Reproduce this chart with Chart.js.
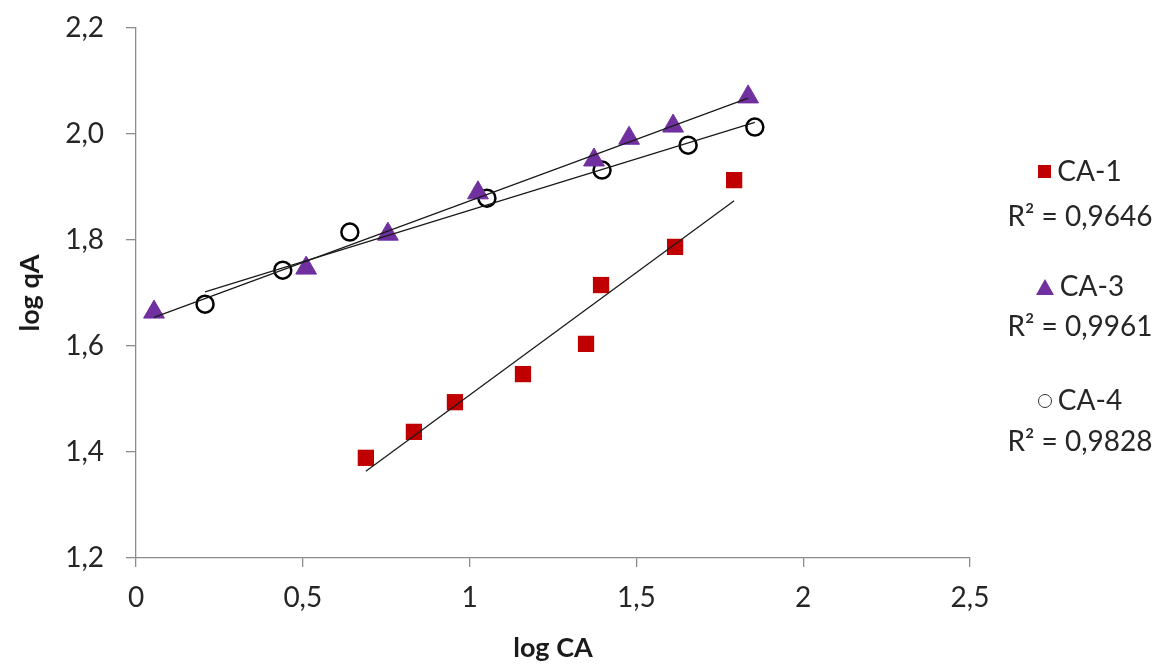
<!DOCTYPE html>
<html>
<head>
<meta charset="utf-8">
<script src="https://cdn.jsdelivr.net/npm/chart.js@4/dist/chart.umd.min.js"></script>
<style>
  body { margin: 0; background: #fff; }
  #wrap { position: relative; width: 1160px; height: 664px; }
  #legend { position: absolute; left: 990px; top: 0; width: 180px; font-family: Lato, "Open Sans", sans-serif; font-size: 28px; color: #262626; text-align: center; }
  .row { position: absolute; left: 0; width: 180px; line-height: 32px; white-space: nowrap; }
  .mk { display: inline-block; margin-right: 6px; vertical-align: middle; position: relative; top: -2px; }
  .sq { width: 13px; height: 13px; background: #c00000; }
  .tri { width: 0; height: 0; border-left: 9px solid transparent; border-right: 9px solid transparent; border-bottom: 16px solid #7030a0; }
  .circ { width: 14px; height: 14px; border: 1.5px solid #333; border-radius: 50%; box-sizing: border-box; }
</style>
</head>
<body>
<div id="wrap">
  <canvas id="chart" width="1160" height="664"></canvas>
  <div id="legend"></div>
</div>
<script>
// series values (log CA, log qA)
const ca1X = [0.689, 0.833, 0.956, 1.160, 1.349, 1.394, 1.616, 1.793];
const ca1Y = [1.389, 1.438, 1.494, 1.547, 1.604, 1.715, 1.787, 1.913];

const ca3X = [0.054, 0.510, 0.755, 1.025, 1.373, 1.478, 1.610, 1.835];
const ca3Y = [1.664, 1.747, 1.811, 1.889, 1.951, 1.992, 2.015, 2.070];

const ca4X = [0.207, 0.440, 0.641, 1.052, 1.397, 1.655, 1.855];
const ca4Y = [1.679, 1.743, 1.815, 1.879, 1.932, 1.979, 2.013];

const seriesNames = ['CA-1', 'CA-3', 'CA-4'];
const r2Labels = ['0,9646', '0,9961', '0,9828'];

const xTicks = [0, 0.5, 1, 1.5, 2, 2.5];
const yTicks = [1.2, 1.4, 1.6, 1.8, 2.0, 2.2];

function toPoints(xs, ys) {
    return xs.map((x, i) => ({ x: x, y: ys[i] }));
}

// least squares trend line over the range of the data
function trend(xs, ys) {
    const n = xs.length;
    const mx = xs.reduce((a, b) => a + b, 0) / n;
    const my = ys.reduce((a, b) => a + b, 0) / n;
    let sxy = 0, sxx = 0;
    xs.forEach((x, i) => {
        sxy += (x - mx) * (ys[i] - my);
        sxx += (x - mx) * (x - mx);
    });
    const slope = sxy / sxx;
    const x0 = Math.min(...xs), x1 = Math.max(...xs);
    return [
        { x: x0, y: my + slope * (x0 - mx) },
        { x: x1, y: my + slope * (x1 - mx) }
    ];
}

function trendSet(xs, ys) {
    return {
        data: trend(xs, ys),
        showLine: true,
        borderColor: '#1a1a1a',
        borderWidth: 1.3,
        pointRadius: 0,
        order: 1
    };
}

const fontFamily = 'Lato, "Open Sans", sans-serif';
const comma = v => String(v).replace('.', ',');

new Chart(document.getElementById('chart'), {
    type: 'scatter',
    data: {
        datasets: [
            trendSet(ca1X, ca1Y),
            trendSet(ca3X, ca3Y),
            trendSet(ca4X, ca4Y),
            {
                label: seriesNames[0],
                data: toPoints(ca1X, ca1Y),
                pointStyle: 'rect',
                pointRadius: 11.5,
                backgroundColor: '#c00000',
                borderColor: '#c00000',
                borderWidth: 0,
                order: 2
            },
            {
                label: seriesNames[1],
                data: toPoints(ca3X, ca3Y),
                pointStyle: 'triangle',
                pointRadius: 12,
                backgroundColor: '#7030a0',
                borderColor: '#7030a0',
                borderWidth: 1,
                order: 2
            },
            {
                label: seriesNames[2],
                data: toPoints(ca4X, ca4Y),
                pointStyle: 'circle',
                pointRadius: 8.5,
                backgroundColor: '#ffffff',
                borderColor: '#000000',
                borderWidth: 2.5,
                order: 2
            }
        ]
    },
    options: {
        responsive: false,
        animation: false,
        layout: { padding: { top: 28, right: 190, left: 0, bottom: 0 } },
        plugins: { legend: { display: false }, tooltip: { enabled: false } },
        scales: {
            x: {
                type: 'linear',
                min: xTicks[0],
                max: xTicks[xTicks.length - 1],
                afterBuildTicks: s => { s.ticks = xTicks.map(v => ({ value: v })); },
                afterFit: s => { s.height = 106; },
                border: { display: true, color: '#8c8c8c', width: 1.3 },
                grid: { drawOnChartArea: false, drawTicks: true, tickLength: 9, color: '#8c8c8c', lineWidth: 1.3 },
                ticks: {
                    padding: 14,
                    color: '#262626',
                    font: { family: fontFamily, size: 28 },
                    callback: v => comma(v)
                },
                title: {
                    display: true,
                    text: 'log CA',
                    color: '#1a1a1a',
                    padding: { top: 0, bottom: 0 },
                    font: { family: fontFamily, size: 27, weight: 'bold' }
                }
            },
            y: {
                type: 'linear',
                min: yTicks[0],
                max: yTicks[yTicks.length - 1],
                afterBuildTicks: s => { s.ticks = yTicks.map(v => ({ value: v })); },
                afterFit: s => { s.width = 136; s.paddingTop = 0; s.paddingBottom = 0; },
                border: { display: true, color: '#8c8c8c', width: 1.3 },
                grid: { drawOnChartArea: false, drawTicks: true, tickLength: 10, color: '#8c8c8c', lineWidth: 1.3 },
                ticks: {
                    padding: 22,
                    color: '#262626',
                    font: { family: fontFamily, size: 28 },
                    callback: v => v.toFixed(1).replace('.', ',')
                },
                title: {
                    display: true,
                    text: 'log qA',
                    color: '#1a1a1a',
                    padding: { top: 14, bottom: 0 },
                    font: { family: fontFamily, size: 27, weight: 'bold' }
                }
            }
        }
    }
});

// legend with R² lines, built from the names above
const legend = document.getElementById('legend');
const markers = ['sq', 'tri', 'circ'];
const nameTops = [154, 269, 383];
const r2Tops = [199, 309, 424];
seriesNames.forEach((name, i) => {
    const r1 = document.createElement('div');
    r1.className = 'row';
    r1.style.top = nameTops[i] + 'px';
    r1.innerHTML = '<span class="mk ' + markers[i] + '"></span>' + name;
    legend.appendChild(r1);
    const r2 = document.createElement('div');
    r2.className = 'row';
    r2.style.top = r2Tops[i] + 'px';
    r2.textContent = 'R² = ' + r2Labels[i];
    legend.appendChild(r2);
});
</script>
</body>
</html>
